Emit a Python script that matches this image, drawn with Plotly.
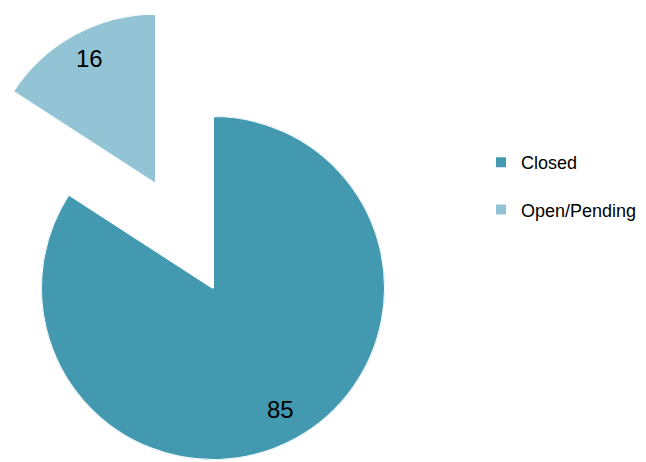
import numpy as np
import plotly.graph_objects as go

categories = ["Closed", "Open/Pending"]
values = [85, 16]
colors = ["#4299B0", "#93C4D6"]

total = sum(values)
spans = [v / total * 360 for v in values]
starts = np.cumsum([0] + spans[:-1])
centers = [s + w / 2 for s, w in zip(starts, spans)]

W, H = 646, 462
fig = go.Figure()

polars = ["polar", "polar2"]
for i, (cat, val) in enumerate(zip(categories, values)):
    fig.add_trace(go.Barpolar(
        r=[1], theta=[centers[i]], width=[spans[i]], name=cat,
        marker=dict(color=colors[i], line=dict(color="white", width=2)),
        subplot=polars[i], hoverinfo="name+text", text=[str(val)],
        showlegend=True, legendgroup=cat,
    ))
    fig.add_trace(go.Scatterpolar(
        r=[0.82], theta=[centers[i]], mode="text", text=[str(val)],
        textfont=dict(family="Liberation Sans", size=24, color="black"),
        subplot=polars[i], showlegend=False, hoverinfo="skip", cliponaxis=False,
    ))

# sector of the pulled slice, in screen angles (counterclockwise from east)
open_sector = [90, 90 + spans[1]]

def ax_off():
    return dict(
        bgcolor="rgba(0,0,0,0)",
        radialaxis=dict(visible=False, range=[0, 1]),
        angularaxis=dict(visible=False, rotation=90, direction="clockwise"),
    )

p1 = ax_off()
p1["domain"] = dict(x=[41 / W, 385 / W], y=[2 / H, 346 / H])
p2 = ax_off()
p2["domain"] = dict(x=[13 / W, 156 / W], y=[(H - 185) / H, (H - 13) / H])
p2["sector"] = open_sector

fig.update_layout(
    width=W, height=H,
    margin=dict(l=0, r=0, t=0, b=0),
    paper_bgcolor="white", plot_bgcolor="white",
    polar=p1, polar2=p2,
    legend=dict(
        x=481 / W, y=(H - 144) / H, xanchor="left", yanchor="top",
        font=dict(family="Liberation Sans", size=18, color="black"),
        tracegroupgap=21, bgcolor="rgba(0,0,0,0)",
    ),
)

fig.write_html("out.html")
